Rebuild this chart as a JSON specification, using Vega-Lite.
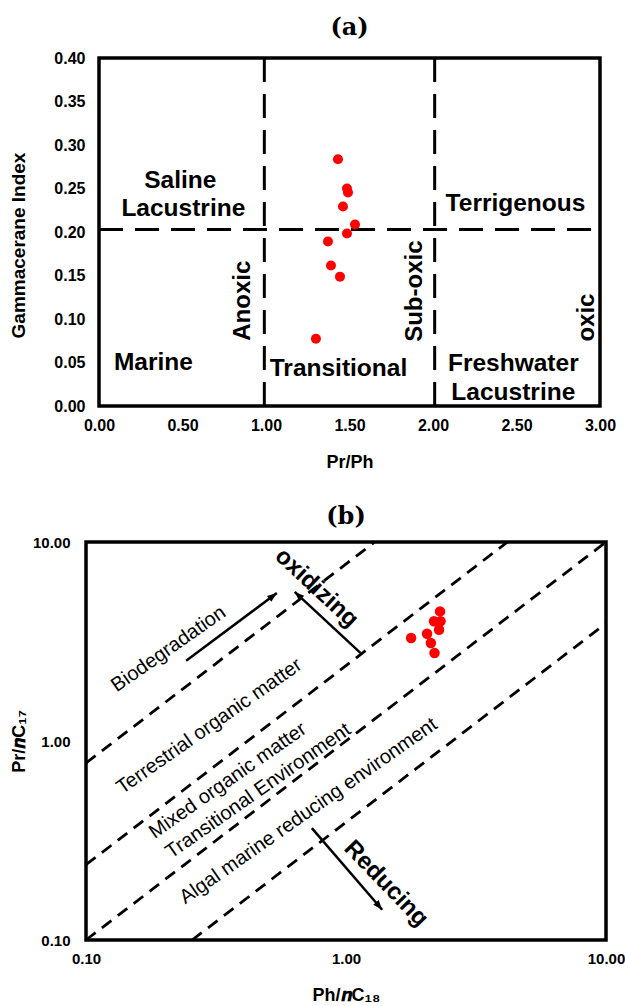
{
  "$schema": "https://vega.github.io/schema/vega-lite/v6.json",
  "background": "white",
  "padding": {"left": 7, "top": 14, "right": 0, "bottom": 0},
  "autosize": {"type": "pad"},
  "columns": 2,
  "align": "none",
  "spacing": {"row": 30, "column": 0},
  "config": {
    "view": {"stroke": "black", "strokeWidth": 3.5},
    "font": "Liberation Sans",
    "axis": {"domain": false, "ticks": false, "grid": false, "labelFlush": false, "labelFont": "Liberation Sans", "labelFontWeight": "bold", "labelColor": "black", "titleFont": "Liberation Sans", "titleFontWeight": "bold", "titleColor": "black"},
    "title": {"font": "DejaVu Serif", "fontWeight": "bold", "fontSize": 24, "color": "black", "anchor": "middle"}
  },
  "datasets": {
    "empty": [],
    "a_lines": [
      {"x": 0.99, "y": 0, "x2": 0.99, "y2": 0.4},
      {"x": 2.01, "y": 0, "x2": 2.01, "y2": 0.4},
      {"x": 0, "y": 0.203, "x2": 3, "y2": 0.203}
    ],
    "a_points": [
      {"x": 1.431, "y": 0.2836},
      {"x": 1.485, "y": 0.2501},
      {"x": 1.491, "y": 0.2455},
      {"x": 1.461, "y": 0.2294},
      {"x": 1.533, "y": 0.2086},
      {"x": 1.485, "y": 0.1983},
      {"x": 1.371, "y": 0.189},
      {"x": 1.389, "y": 0.1614},
      {"x": 1.443, "y": 0.1487},
      {"x": 1.299, "y": 0.0772}
    ],
    "a_labels": [
      {"label": "Saline", "x": 0.487, "y": 0.259},
      {"label": "Lacustrine", "x": 0.505, "y": 0.226},
      {"label": "Terrigenous", "x": 2.494, "y": 0.232},
      {"label": "Marine", "x": 0.326, "y": 0.0498},
      {"label": "Transitional", "x": 1.434, "y": 0.0422},
      {"label": "Freshwater", "x": 2.481, "y": 0.048},
      {"label": "Lacustrine", "x": 2.481, "y": 0.0153},
      {"label": "Anoxic", "x": 0.86, "y": 0.121},
      {"label": "Sub-oxic", "x": 1.895, "y": 0.132},
      {"label": "oxic", "x": 2.921, "y": 0.1016}
    ],
    "b_lines": [
      {"x": 0.1, "y": 0.775, "x2": 1.29, "y2": 10},
      {"x": 0.1, "y": 0.239, "x2": 4.18, "y2": 10},
      {"x": 0.1, "y": 0.1, "x2": 10, "y2": 10},
      {"x": 0.256, "y": 0.1, "x2": 10, "y2": 3.9}
    ],
    "b_arrows": [
      {"arrow": "Biodegradation", "x": 0.542, "y": 5.54, "x2": 0.2427, "y2": 2.532},
      {"arrow": "oxidizing", "x": 0.635, "y": 5.61, "x2": 1.136, "y2": 2.77},
      {"arrow": "Reducing", "x": 1.378, "y": 0.142, "x2": 0.739, "y2": 0.365}
    ],
    "b_points": [
      {"x": 2.30, "y": 4.48},
      {"x": 2.18, "y": 4.00},
      {"x": 2.31, "y": 4.00},
      {"x": 2.28, "y": 3.62},
      {"x": 2.05, "y": 3.46},
      {"x": 1.78, "y": 3.29},
      {"x": 2.12, "y": 3.11},
      {"x": 2.19, "y": 2.77}
    ],
    "b_labels": [
      {"label": "Biodegradation", "x": 0.2077, "y": 2.90},
      {"label": "Terrestrial organic matter", "x": 0.298, "y": 1.186},
      {"label": "Mixed organic matter", "x": 0.351, "y": 0.632},
      {"label": "Transitional Environment", "x": 0.4596, "y": 0.5614},
      {"label": "Algal marine reducing environment", "x": 0.7175, "y": 0.4447},
      {"label": "oxidizing", "x": 0.770, "y": 5.87},
      {"label": "Reducing", "x": 1.425, "y": 0.192}
    ]
  },
  "concat": [
    {
      "width": 1, "height": 1,
      "view": {"stroke": null},
      "data": {"name": "empty"},
      "mark": "point"
    },
    {
      "width": 501,
      "height": 348,
      "title": {"text": "(a)", "offset": 10},
      "encoding": {
        "x": {"field": "x", "type": "quantitative",
              "scale": {"domain": [0, 3], "nice": false, "zero": false},
              "axis": {"values": [0, 0.5, 1, 1.5, 2, 2.5, 3], "format": ".2f", "labelFontSize": 16, "labelPadding": 11, "title": "Pr/Ph", "titleFontSize": 18, "titlePadding": 20}},
        "y": {"field": "y", "type": "quantitative",
              "scale": {"domain": [0, 0.4], "nice": false, "zero": false},
              "axis": {"values": [0, 0.05, 0.1, 0.15, 0.2, 0.25, 0.3, 0.35, 0.4], "format": ".2f", "labelFontSize": 16, "labelPadding": 14, "title": "Gammacerane Index", "titleFontSize": 19, "titlePadding": 25, "titleY": 187}}
      },
      "layer": [
        {"data": {"name": "a_lines"},
         "mark": {"type": "rule", "strokeDash": [24, 12], "strokeWidth": 3, "color": "black"},
         "encoding": {"x2": {"field": "x2"}, "y2": {"field": "y2"}}},
        {"data": {"name": "a_points"},
         "mark": {"type": "point", "filled": true, "color": "#ff0000", "size": 100, "opacity": 1}},
        {"data": {"name": "a_labels"},
         "transform": [{"filter": "indexof(['Anoxic','Sub-oxic','oxic'], datum.label) < 0"}],
         "mark": {"type": "text", "font": "Liberation Sans", "fontWeight": "bold", "fontSize": 24.5, "align": "center", "baseline": "middle", "color": "black"},
         "encoding": {"text": {"field": "label"}}},
        {"data": {"name": "a_labels"},
         "transform": [{"filter": "indexof(['Anoxic','Sub-oxic','oxic'], datum.label) >= 0"}],
         "mark": {"type": "text", "font": "Liberation Sans", "fontWeight": "bold", "fontSize": 24, "align": "center", "baseline": "middle", "angle": 270, "color": "black"},
         "encoding": {"text": {"field": "label"}}}
      ]
    },
    {
      "width": 1, "height": 1,
      "view": {"stroke": null},
      "data": {"name": "empty"},
      "mark": "point"
    },
    {
      "width": 520,
      "height": 398,
      "title": {"text": "(b)", "offset": 6},
      "encoding": {
        "x": {"field": "x", "type": "quantitative",
              "scale": {"type": "log", "domain": [0.1, 10], "nice": false},
              "axis": {"values": [0.1, 1, 10], "format": ".2f", "labelFontSize": 15, "labelPadding": 11, "title": "Ph/𝒏C₁₈", "titleFontSize": 18, "titlePadding": 20}},
        "y": {"field": "y", "type": "quantitative",
              "scale": {"type": "log", "domain": [0.1, 10], "nice": false},
              "axis": {"values": [0.1, 1, 10], "format": ".2f", "labelFontSize": 15, "labelPadding": 16, "title": "Pr/𝒏C₁₇", "titleFontSize": 18, "titlePadding": 4}}
      },
      "layer": [
        {"data": {"name": "b_lines"},
         "mark": {"type": "rule", "strokeDash": [12, 8], "strokeWidth": 2.8, "color": "black"},
         "encoding": {"x2": {"field": "x2"}, "y2": {"field": "y2"}}},
        {"data": {"name": "b_arrows"},
         "mark": {"type": "rule", "strokeWidth": 2.5, "color": "black"},
         "encoding": {"x2": {"field": "x2"}, "y2": {"field": "y2"}}},
        {"data": {"name": "b_arrows"},
         "transform": [{"filter": "datum.arrow == 'Biodegradation'"}],
         "mark": {"type": "point", "shape": "M0,0L0.9,2.4L-0.9,2.4Z", "size": 64, "filled": true, "color": "black", "opacity": 1, "angle": 53}},
        {"data": {"name": "b_arrows"},
         "transform": [{"filter": "datum.arrow == 'oxidizing'"}],
         "mark": {"type": "point", "shape": "M0,0L0.9,2.4L-0.9,2.4Z", "size": 64, "filled": true, "color": "black", "opacity": 1, "angle": 313}},
        {"data": {"name": "b_arrows"},
         "transform": [{"filter": "datum.arrow == 'Reducing'"}],
         "mark": {"type": "point", "shape": "M0,0L0.9,2.4L-0.9,2.4Z", "size": 64, "filled": true, "color": "black", "opacity": 1, "angle": 139}},
        {"data": {"name": "b_points"},
         "mark": {"type": "point", "filled": true, "color": "#ff0000", "size": 110, "opacity": 1}},
        {"data": {"name": "b_labels"},
         "transform": [{"filter": "datum.label != 'oxidizing' && datum.label != 'Reducing'"}],
         "mark": {"type": "text", "font": "Liberation Sans", "fontSize": 20, "align": "center", "baseline": "middle", "angle": 325, "color": "black"},
         "encoding": {"text": {"field": "label"}}},
        {"data": {"name": "b_labels"},
         "transform": [{"filter": "datum.label == 'oxidizing'"}],
         "mark": {"type": "text", "font": "Liberation Sans", "fontWeight": "bold", "fontSize": 24, "align": "center", "baseline": "middle", "angle": 43, "color": "black"},
         "encoding": {"text": {"field": "label"}}},
        {"data": {"name": "b_labels"},
         "transform": [{"filter": "datum.label == 'Reducing'"}],
         "mark": {"type": "text", "font": "Liberation Sans", "fontWeight": "bold", "fontSize": 24, "align": "center", "baseline": "middle", "angle": 46, "color": "black"},
         "encoding": {"text": {"field": "label"}}}
      ]
    }
  ]
}
